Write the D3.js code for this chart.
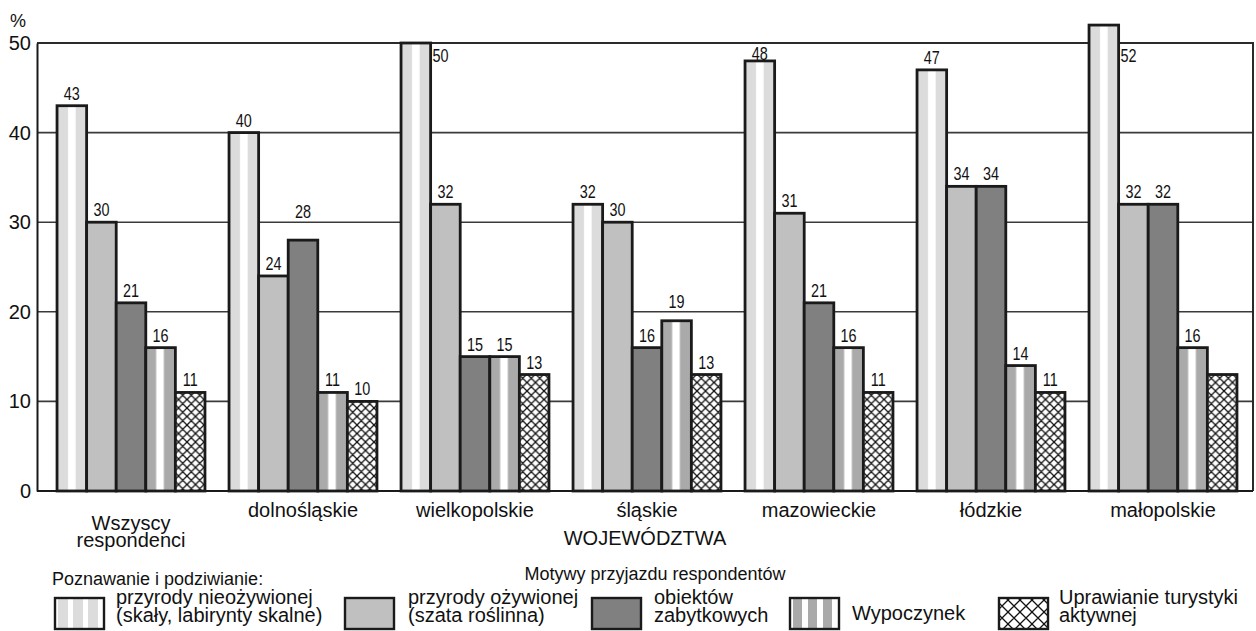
<!DOCTYPE html>
<html><head><meta charset="utf-8">
<script src="https://cdn.jsdelivr.net/npm/d3@7"></script>
<style>
body{margin:0;background:#fff;}
svg{display:block;font-family:"Liberation Sans",Arial,sans-serif;}
</style></head>
<body><svg id="c" width="1256" height="631"></svg>
<script>
const categories = ["Wszyscy\nrespondenci","dolnośląskie","wielkopolskie","śląskie","mazowieckie","łódzkie","małopolskie"];
const seriesNames = ["przyrody nieożywionej\n(skały, labirynty skalne)","przyrody ożywionej\n(szata roślinna)","obiektów\nzabytkowych","Wypoczynek","Uprawianie turystyki\naktywnej"];
const przyrodyNieozywionej = [43,40,50,32,48,47,52];
const przyrodyOzywionej    = [30,24,32,30,31,34,32];
const obiektowZabytkowych  = [21,28,15,16,21,34,32];
const wypoczynek           = [16,11,15,19,16,14,16];
const turystykaAktywna     = [11,10,13,13,11,11,13];
const series = [przyrodyNieozywionej,przyrodyOzywionej,obiektowZabytkowych,wypoczynek,turystykaAktywna];
const hiddenLabels = [[6,4]]; // [category index, series index] without a value label
const yTicks = [0,10,20,30,40,50];

(function(){
const svg = d3.select("#c");
const defs = svg.append("defs");
function stripeBox(id, col, a, b){
  const p = defs.append("pattern").attr("id",id).attr("patternUnits","objectBoundingBox")
    .attr("patternContentUnits","objectBoundingBox").attr("width",1).attr("height",1);
  p.append("rect").attr("width",1).attr("height",1).attr("fill",col);
  p.append("rect").attr("x",a).attr("width",b-a).attr("height",1).attr("fill","#fff");
}
stripeBox("s1","#dcdcdc",0.37,0.63);
stripeBox("s4","#aaaaaa",0.35,0.61);
function stripeLeg(id,col,per,w,off){
  const p = defs.append("pattern").attr("id",id).attr("patternUnits","userSpaceOnUse")
    .attr("width",per).attr("height",10).attr("x",off);
  p.append("rect").attr("width",per).attr("height",10).attr("fill",col);
  p.append("rect").attr("x",per-w).attr("width",w).attr("height",10).attr("fill","#fff");
}
stripeLeg("l1","#dcdcdc",15,5,58);
stripeLeg("l4","#aaaaaa",15,6,793);
function hatch(id,per,sw){
  const p = defs.append("pattern").attr("id",id).attr("patternUnits","userSpaceOnUse")
    .attr("width",per).attr("height",per);
  p.append("rect").attr("width",per).attr("height",per).attr("fill","#fff");
  p.append("path").attr("d",`M0,0L${per},${per}M0,${per}L${per},0M${-per/2},${per/2}L${per/2},${per*1.5}M${per/2},${-per/2}L${per*1.5},${per/2}M${-per/2},${per/2}L${per/2},${-per/2}M${per/2},${per*1.5}L${per*1.5},${per/2}`)
    .attr("stroke","#111").attr("stroke-width",sw).attr("fill","none");
}
hatch("h5",8.5,1.3);
hatch("hl5",12,1.3);
const fills = ["url(#s1)","#c0c0c0","#808080","url(#s4)","url(#h5)"];
const legFills = ["url(#l1)","#c0c0c0","#808080","url(#l4)","url(#hl5)"];

const mLeft = 37, mRight = 1253, mTop = 43, mBottom = 491;
const y = d3.scaleLinear().domain([0,50]).range([mBottom, mTop]);
const x0 = d3.scaleBand().domain(categories).range([45,1249]).paddingInner(0.14).paddingOuter(0.07);
const x1 = d3.scaleBand().domain(d3.range(series.length)).range([0,x0.bandwidth()]);

svg.append("g").selectAll("line").data(yTicks.filter(t=>t>0&&t<50)).join("line")
  .attr("x1",mLeft).attr("x2",mRight).attr("y1",d=>y(d)).attr("y2",d=>y(d))
  .attr("stroke","#3a3a3a").attr("stroke-width",1.6);
svg.append("path").attr("d",`M${mLeft},${y(50)}H${mRight}V${mBottom}`).attr("fill","none")
  .attr("stroke","#2a2a2a").attr("stroke-width",2);
const yAxis = d3.axisLeft(y).tickValues(yTicks).tickSize(0).tickPadding(6);
const ya = svg.append("g").attr("transform",`translate(${mLeft},0)`).call(yAxis);
ya.select(".domain").attr("stroke","#1a1a1a").attr("stroke-width",2);
ya.selectAll("text").attr("font-size",20).attr("fill","#111").attr("font-family","Liberation Sans, Arial, sans-serif");
svg.append("text").attr("x",10).attr("y",27).attr("font-size",18).attr("fill","#111").text("%");

const data = [];
categories.forEach((c,i)=>series.forEach((s,j)=>data.push({c,i,j,v:s[i]})));
svg.append("g").selectAll("rect").data(data).join("rect")
  .attr("x",d=>x0(d.c)+x1(d.j)).attr("width",x1.bandwidth())
  .attr("y",d=>y(d.v)).attr("height",d=>y(0)-y(d.v))
  .attr("fill",d=>fills[d.j]).attr("stroke","#1a1a1a").attr("stroke-width",2.8);
svg.append("line").attr("x1",mLeft).attr("x2",mRight).attr("y1",mBottom).attr("y2",mBottom)
  .attr("stroke","#1a1a1a").attr("stroke-width",2);

const gridVals = yTicks.filter(t=>t>0&&t<50).map(t=>y(t));
function labelPos(d){
  const bx = x0(d.c)+x1(d.j), bw = x1.bandwidth();
  if (d.v >= 50) return {x: bx+bw+2, y: y(50)+19, a:"start"};
  let b = y(d.v)-6;
  if (b-12 < y(50)+3) b = y(d.v)-1;
  for (const g of gridVals) if (g > b-14 && g < b+2) b = g-4;
  return {x: bx+bw/2, y: b, a:"middle"};
}
const vg = svg.append("g").selectAll("g").data(data.filter(d=>!hiddenLabels.some(h=>h[0]===d.i&&h[1]===d.j))).join("g")
  .attr("transform",d=>{const p=labelPos(d);return `translate(${p.x},${p.y}) scale(0.8,1)`;});
vg.append("text").attr("font-size",18).attr("fill","#111")
  .attr("text-anchor",d=>labelPos(d).a).text(d=>d.v);

const cg = svg.append("g").attr("font-size",20).attr("fill","#111").attr("text-anchor","middle");
categories.forEach(c=>{
  const lines = c.split("\n");
  const t = cg.append("text").attr("x",x0(c)+x0.bandwidth()/2).attr("y",lines.length>1?530:517);
  lines.forEach((l,k)=>t.append("tspan").attr("x",x0(c)+x0.bandwidth()/2).attr("dy",k?17:0).text(l));
});
svg.append("text").attr("x",645).attr("y",545).attr("text-anchor","middle").attr("font-size",20).attr("fill","#111").text("WOJEWÓDZTWA");

svg.append("text").attr("x",52).attr("y",585).attr("font-size",18).attr("fill","#111").text("Poznawanie i podziwianie:");
svg.append("text").attr("x",655).attr("y",580).attr("text-anchor","middle").attr("font-size",18).attr("fill","#111").text("Motywy przyjazdu respondentów");
const legX = [55,345,592,790,999];
const legTX = [116,408,654,852,1059];
seriesNames.forEach((n,j)=>{
  svg.append("rect").attr("x",legX[j]).attr("y",598).attr("width",49).attr("height",31)
    .attr("fill",legFills[j]).attr("stroke","#1a1a1a").attr("stroke-width",2.4);
  const lines = n.split("\n");
  const t = svg.append("text").attr("x",legTX[j]).attr("y",lines.length>1?604:620).attr("font-size",20).attr("fill","#111");
  lines.forEach((l,k)=>t.append("tspan").attr("x",legTX[j]).attr("dy",k?18:0).text(l));
});
})();
</script></body></html>
